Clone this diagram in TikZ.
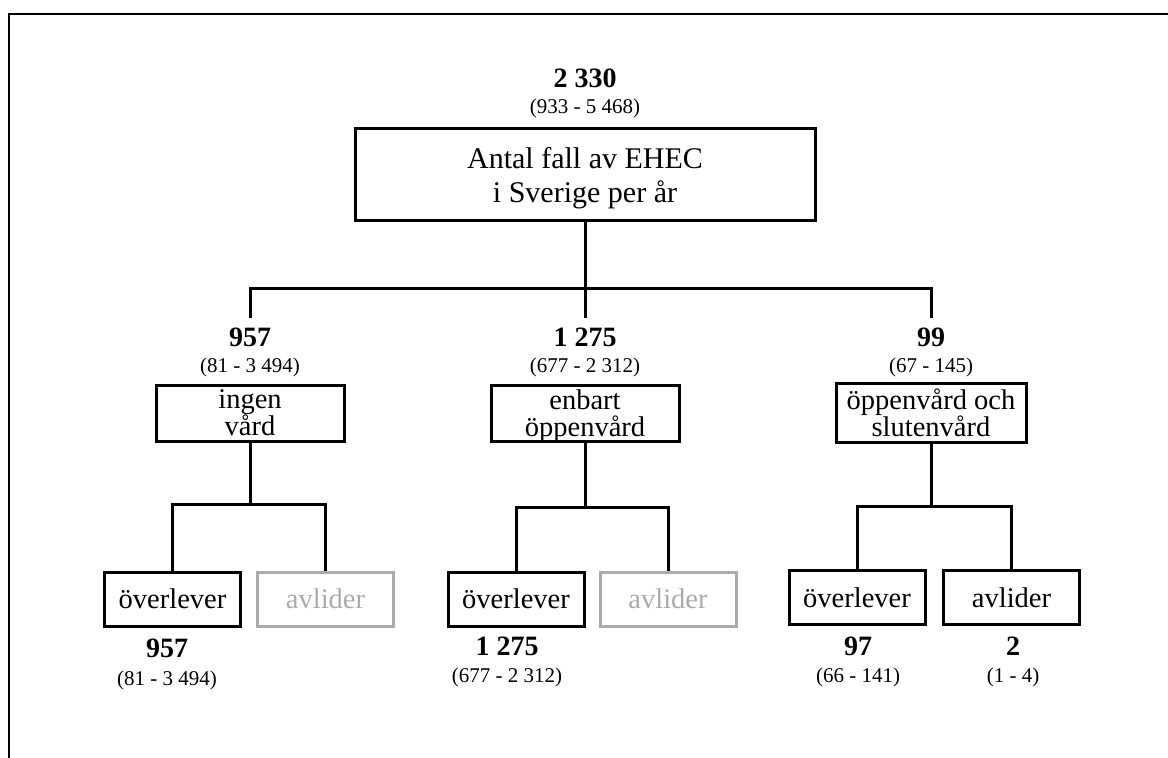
\documentclass[tikz,border=0pt]{standalone}
\usepackage{fontspec}
\setmainfont{Liberation Serif}
\definecolor{faded}{HTML}{ABABAB}
\begin{document}
\begin{tikzpicture}[x=1pt,y=-1pt,
  box/.style={draw, line width=3pt, inner sep=0pt, align=center, text depth=0pt,
    font=\fontsize{28.5}{27}\selectfont},
  leaf/.style={box, minimum width=136, minimum height=54},
  greyleaf/.style={leaf, draw=faded, text=faded},
  num/.style={anchor=base, inner sep=0pt, font=\fontsize{28}{30}\selectfont\bfseries},
  rng/.style={anchor=base, inner sep=0pt, font=\fontsize{21}{24}\selectfont},
  link/.style={line width=3pt},
  frame/.style={line width=2.5pt}]
\useasboundingbox (0,0) rectangle (1168,758);

% outer frame (top and left edges)
\draw[frame] (9,758) -- (9,14) -- (1168,14);

% root
\node[num] (n0) at (585,87) {2 330};
\node[rng] (r0) at (585,113) {(933 - 5 468)};
\node[box, minimum width=460, minimum height=92, font=\fontsize{30}{34}\selectfont]
  (root) at (585,174.5) {Antal fall av EHEC\\i Sverige per år};

% care level
\coordinate (j0) at (585,288);
\coordinate (d1) at (250,318);
\coordinate (d2) at (585,318);
\coordinate (d3) at (931,318);
\draw[link] (root.south) -- (j0);
\draw[link] (d1) -- (d1 |- j0) -- (d3 |- j0) -- (d3);
\draw[link] (j0) -- (d2);

\node[num] (n1) at (250,346) {957};
\node[rng] (r1) at (250,372) {(81 - 3 494)};
\node[num] (n2) at (585,346) {1 275};
\node[rng] (r2) at (585,372) {(677 - 2 312)};
\node[num] (n3) at (931,346) {99};
\node[rng] (r3) at (931,372) {(67 - 145)};

\node[box, minimum width=188, minimum height=56] (b1) at (250,413) {ingen\\vård};
\node[box, minimum width=188, minimum height=56] (b2) at (585,413) {enbart\\öppenvård};
\node[box, minimum width=190, minimum height=59] (b3) at (931,413) {öppenvård och\\slutenvård};

% outcome level
\node[leaf] (s1) at (172.5,599) {överlever};
\node[greyleaf] (a1) at (325.5,599) {avlider};
\node[leaf] (s2) at (516,599) {överlever};
\node[greyleaf] (a2) at (668,599) {avlider};
\node[leaf] (s3) at (857,597.5) {överlever};
\node[leaf] (a3) at (1011.5,597.5) {avlider};

\coordinate (h1) at (250,504);
\coordinate (h2) at (585,507);
\coordinate (h3) at (931,506);
\draw[link] (b1.south) -- (h1);
\draw[link] (s1.north) |- (h1) -| (a1.north);
\draw[link] (b2.south) -- (h2);
\draw[link] (s2.north) |- (h2) -| (a2.north);
\draw[link] (b3.south) -- (h3);
\draw[link] (s3.north) |- (h3) -| (a3.north);

\node[num] (n4) at (167,657) {957};
\node[rng] (r4) at (167,685) {(81 - 3 494)};
\node[num] (n5) at (507,655) {1 275};
\node[rng] (r5) at (507,682) {(677 - 2 312)};
\node[num] (n6) at (858,655) {97};
\node[rng] (r6) at (858,682) {(66 - 141)};
\node[num] (n7) at (1013,655) {2};
\node[rng] (r7) at (1013,682) {(1 - 4)};
\end{tikzpicture}
\end{document}
